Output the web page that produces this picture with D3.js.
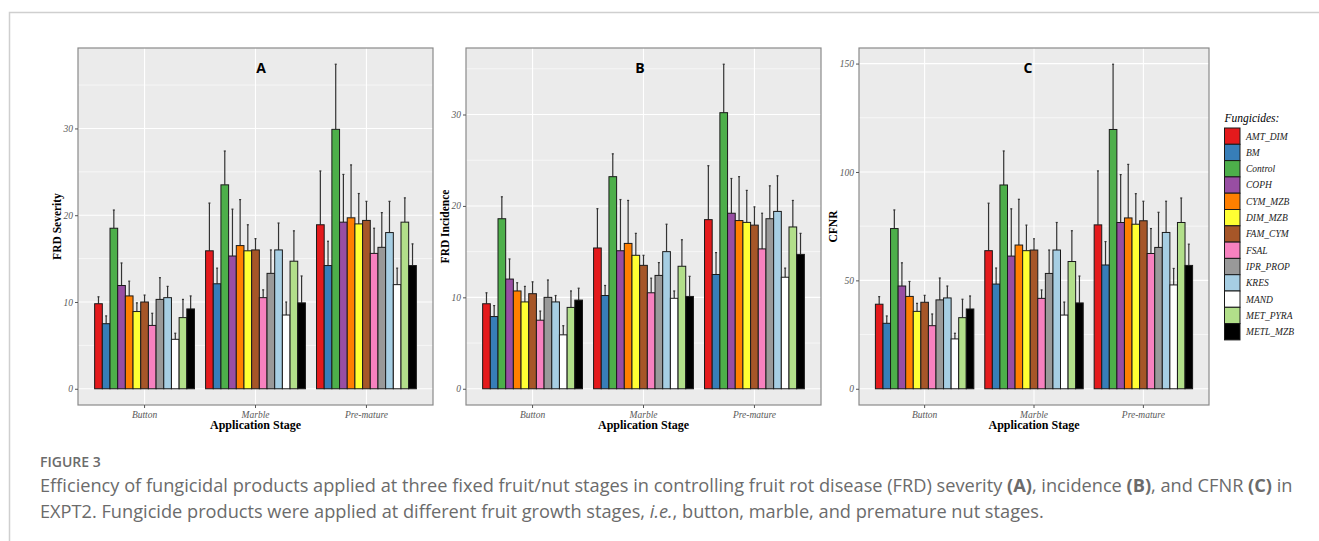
<!DOCTYPE html>
<html lang="en">
<head>
<meta charset="UTF-8">
<title>Figure 3</title>
<script src="https://cdn.jsdelivr.net/npm/d3@7"></script>
<style>
    body { margin: 0; background: #fff; }
    svg text { font-family: "Liberation Serif", "Times New Roman", serif; }
    .caption text { font-family: "Open Sans", "Noto Sans", sans-serif; }
</style>
</head>
<body>
<svg id="fig" width="1319" height="541"></svg>
<script>

var stages = ["Button", "Marble", "Pre-mature"];
var fungicides = ["AMT_DIM", "BM", "Control", "COPH", "CYM_MZB", "DIM_MZB", "FAM_CYM",
    "FSAL", "IPR_PROP", "KRES", "MAND", "MET_PYRA", "METL_MZB"];
var fillColors = ["#e41a1c", "#377eb8", "#4daf4a", "#984ea3", "#ff7f00", "#ffff33", "#a65628",
    "#f781bf", "#999999", "#a6cee3", "#ffffff", "#b2df8a", "#000000"];

// (A) FRD severity, one row per stage, and the top of each error bar
var severityMean = [
    [9.8, 7.5, 18.5, 11.9, 10.7, 8.9, 10.0, 7.3, 10.3, 10.5, 5.7, 8.2, 9.2],
    [15.9, 12.1, 23.5, 15.3, 16.5, 15.9, 16.0, 10.5, 13.3, 16.0, 8.5, 14.7, 9.9],
    [18.9, 14.2, 29.9, 19.2, 19.7, 19.0, 19.4, 15.6, 16.3, 18.0, 12.0, 19.2, 14.2]
];
var severityUpper = [
    [10.6, 8.4, 20.6, 14.5, 12.4, 9.9, 10.8, 8.7, 12.8, 11.8, 6.4, 10.3, 10.7],
    [21.4, 13.9, 27.4, 20.7, 21.8, 18.9, 17.3, 11.4, 16.0, 19.1, 10.0, 18.2, 13.0],
    [25.1, 17.0, 37.4, 24.7, 25.8, 22.5, 21.6, 18.5, 20.3, 21.6, 13.9, 22.0, 16.7]
];

// (B) FRD incidence
var incidenceMean = [
    [9.3, 7.9, 18.6, 12.0, 10.7, 9.5, 10.4, 7.5, 10.0, 9.5, 5.9, 8.9, 9.7],
    [15.4, 10.2, 23.2, 15.1, 15.9, 14.6, 13.5, 10.5, 12.4, 15.0, 9.9, 13.4, 10.1],
    [18.5, 12.5, 30.2, 19.2, 18.4, 18.2, 17.9, 15.3, 18.6, 19.4, 12.2, 17.7, 14.7]
];
var incidenceUpper = [
    [10.5, 9.1, 21.0, 14.2, 11.6, 11.2, 11.7, 8.5, 11.9, 10.2, 6.9, 10.7, 11.0],
    [19.7, 11.3, 25.7, 20.7, 20.6, 17.0, 14.6, 12.1, 13.8, 18.0, 10.7, 16.3, 12.3],
    [24.4, 14.9, 35.5, 23.0, 23.2, 21.7, 19.9, 19.2, 22.2, 23.3, 13.2, 20.6, 17.0]
];

// (C) CFNR
var cfnrMean = [
    [39.0, 30.2, 73.9, 47.4, 42.6, 35.7, 39.9, 29.1, 41.0, 41.9, 23.0, 32.8, 36.8],
    [63.7, 48.3, 94.0, 61.2, 66.3, 63.7, 64.0, 41.7, 53.2, 64.0, 34.0, 58.7, 39.6],
    [75.6, 57.1, 119.6, 76.7, 78.8, 75.9, 77.5, 62.4, 65.2, 72.1, 47.9, 76.7, 56.9]
];
var cfnrUpper = [
    [42.5, 33.6, 82.5, 58.1, 49.5, 39.4, 43.1, 34.5, 51.1, 47.4, 25.6, 41.3, 42.8],
    [85.6, 55.7, 109.7, 83.0, 87.4, 75.5, 69.2, 45.6, 64.0, 76.7, 40.0, 72.9, 52.0],
    [100.5, 67.9, 149.7, 98.8, 103.5, 90.0, 86.5, 73.9, 81.4, 86.5, 55.5, 88.0, 66.7]
];

var severityTicks = [0, 10, 20, 30];
var incidenceTicks = [0, 10, 20, 30];
var cfnrTicks = [0, 50, 100, 150];

var panels = [
    {letter: "A", yTitle: "FRD Severity", mean: severityMean, upper: severityUpper, ticks: severityTicks,
        left: 78, right: 433, titleX: 57, letterX: 261},
    {letter: "B", yTitle: "FRD Incidence", mean: incidenceMean, upper: incidenceUpper, ticks: incidenceTicks,
        left: 466, right: 821, titleX: 445, letterX: 640},
    {letter: "C", yTitle: "CFNR", mean: cfnrMean, upper: cfnrUpper, ticks: cfnrTicks,
        left: 859, right: 1209, titleX: 833, letterX: 1028}
];

var plotTop = 48, plotBottom = 405;
var svg = d3.select("#fig");

// figure frame
svg.append("path")
    .attr("d", "M9.5,541 V12.5 H1319")
    .attr("fill", "none")
    .attr("stroke", "#cfcfcf")
    .attr("stroke-width", 1.5);

panels.forEach(function (p) {
    var g = svg.append("g");

    var x = d3.scaleBand().domain(stages).range([p.left, p.right])
        .paddingInner(0.1).paddingOuter(0.15);
    var xi = d3.scaleBand().domain(fungicides).range([0, x.bandwidth()]);

    var maxVal = d3.max(p.upper, function (r) { return d3.max(r); });
    var y = d3.scaleLinear().domain([-0.05 * maxVal, 1.05 * maxVal]).range([plotBottom, plotTop]);

    // panel background
    g.append("rect")
        .attr("x", p.left).attr("y", plotTop)
        .attr("width", p.right - p.left).attr("height", plotBottom - plotTop)
        .attr("fill", "#ebebeb");

    // grid
    var step = p.ticks[1] - p.ticks[0];
    var minor = p.ticks.map(function (t) { return t + step / 2; })
        .filter(function (t) { return t < y.domain()[1]; });
    g.selectAll(".minor").data(minor).enter().append("line")
        .attr("x1", p.left).attr("x2", p.right)
        .attr("y1", function (d) { return y(d); }).attr("y2", function (d) { return y(d); })
        .attr("stroke", "#fff").attr("stroke-width", 0.6);
    g.selectAll(".major").data(p.ticks).enter().append("line")
        .attr("x1", p.left).attr("x2", p.right)
        .attr("y1", function (d) { return y(d); }).attr("y2", function (d) { return y(d); })
        .attr("stroke", "#fff").attr("stroke-width", 1.1);
    g.selectAll(".vgrid").data(stages).enter().append("line")
        .attr("x1", function (d) { return x(d) + x.bandwidth() / 2; })
        .attr("x2", function (d) { return x(d) + x.bandwidth() / 2; })
        .attr("y1", plotTop).attr("y2", plotBottom)
        .attr("stroke", "#fff").attr("stroke-width", 1.1);

    // bars + error bars
    stages.forEach(function (s, si) {
        var sg = g.append("g").attr("transform", "translate(" + x(s) + ",0)");
        fungicides.forEach(function (f, fi) {
            var cx = xi(f) + xi.bandwidth() / 2;
            sg.append("line")
                .attr("x1", cx).attr("x2", cx)
                .attr("y1", y(p.mean[si][fi])).attr("y2", y(p.upper[si][fi]))
                .attr("stroke", "#333").attr("stroke-width", 1.2);
            sg.append("line")
                .attr("x1", cx - 1).attr("x2", cx + 1)
                .attr("y1", y(p.upper[si][fi])).attr("y2", y(p.upper[si][fi]))
                .attr("stroke", "#333").attr("stroke-width", 1.2);
        });
        sg.selectAll("rect").data(fungicides).enter().append("rect")
            .attr("x", function (f) { return xi(f); })
            .attr("width", xi.bandwidth())
            .attr("y", function (f, fi) { return y(p.mean[si][fi]); })
            .attr("height", function (f, fi) { return y(0) - y(p.mean[si][fi]); })
            .attr("fill", function (f, fi) { return fillColors[fi]; })
            .attr("stroke", "#1a1a1a").attr("stroke-width", 1);
    });

    // border
    g.append("rect")
        .attr("x", p.left).attr("y", plotTop)
        .attr("width", p.right - p.left).attr("height", plotBottom - plotTop)
        .attr("fill", "none").attr("stroke", "#8a8a8a").attr("stroke-width", 1.2);

    // axes
    var ya = g.append("g").attr("transform", "translate(" + p.left + ",0)")
        .call(d3.axisLeft(y).tickValues(p.ticks).tickSize(3).tickPadding(2));
    var xa = g.append("g").attr("transform", "translate(0," + plotBottom + ")")
        .call(d3.axisBottom(x).tickSize(3).tickPadding(3));
    [ya, xa].forEach(function (a) {
        a.select(".domain").remove();
        a.selectAll(".tick line").attr("stroke", "#555");
        a.selectAll(".tick text")
            .attr("fill", "#595959")
            .style("font-family", "'Liberation Serif', serif")
            .style("font-style", "italic")
            .style("font-size", "9.5px");
    });

    // titles
    g.append("text")
        .attr("transform", "translate(" + p.titleX + "," + ((plotTop + plotBottom) / 2) + ") rotate(-90)")
        .attr("text-anchor", "middle")
        .attr("dy", "0.35em")
        .style("font-weight", "bold").style("font-size", "11.5px")
        .text(p.yTitle);
    g.append("text")
        .attr("x", (p.left + p.right) / 2).attr("y", 429)
        .attr("text-anchor", "middle")
        .style("font-weight", "bold").style("font-size", "12px")
        .text("Application Stage");
    g.append("text")
        .attr("x", p.letterX).attr("y", 73)
        .attr("text-anchor", "middle")
        .style("font-family", "'Open Sans', 'Liberation Sans', sans-serif")
        .style("font-weight", "bold").style("font-size", "14px")
        .text(p.letter);
});

// legend
var legend = svg.append("g").attr("transform", "translate(1224.5,128)");
legend.append("text")
    .attr("x", 0).attr("y", -6)
    .style("font-style", "italic").style("font-size", "11.5px")
    .text("Fungicides:");
var keys = legend.selectAll(".key").data(fungicides).enter().append("g")
    .attr("transform", function (d, i) { return "translate(0," + (i * 16.3) + ")"; });
keys.append("rect")
    .attr("width", 15.5).attr("height", 16.3)
    .attr("fill", function (d, i) { return fillColors[i]; })
    .attr("stroke", "#1a1a1a").attr("stroke-width", 1);
keys.append("text")
    .attr("x", 21.5).attr("y", 8.2).attr("dy", "0.35em")
    .attr("fill", "#222")
    .style("font-style", "italic").style("font-size", "9.5px")
    .text(function (d) { return d; });

// caption
var cap = svg.append("g").attr("class", "caption").attr("fill", "#6b6b6b");
cap.append("text")
    .attr("x", 40).attr("y", 467)
    .style("font-size", "14px").style("font-weight", "600")
    .text("FIGURE 3");
var l1 = cap.append("text").attr("x", 40).attr("y", 492).style("font-size", "18.2px");
l1.append("tspan").text("Efficiency of fungicidal products applied at three fixed fruit/nut stages in controlling fruit rot disease (FRD) severity ");
l1.append("tspan").style("font-weight", "bold").text("(A)");
l1.append("tspan").text(", incidence ");
l1.append("tspan").style("font-weight", "bold").text("(B)");
l1.append("tspan").text(", and CFNR ");
l1.append("tspan").style("font-weight", "bold").text("(C)");
l1.append("tspan").text(" in");
var l2 = cap.append("text").attr("x", 40).attr("y", 518).style("font-size", "18.2px");
l2.append("tspan").text("EXPT2. Fungicide products were applied at different fruit growth stages, ");
l2.append("tspan").style("font-style", "italic").text("i.e.");
l2.append("tspan").text(", button, marble, and premature nut stages.");

</script>
</body>
</html>
